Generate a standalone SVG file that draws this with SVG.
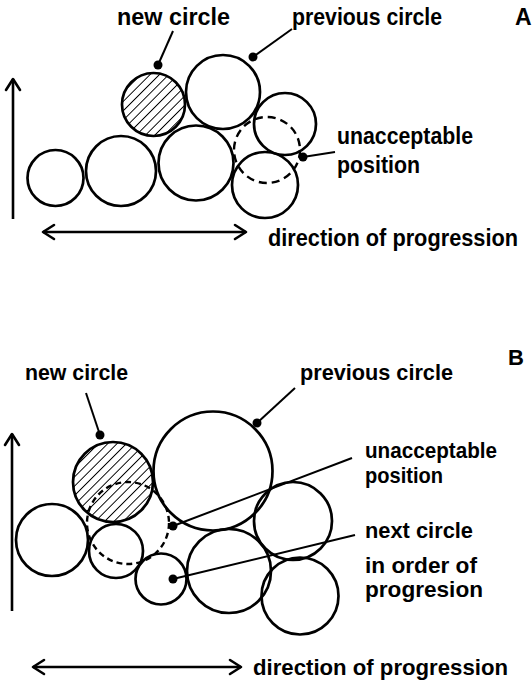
<svg xmlns="http://www.w3.org/2000/svg" width="532" height="681" viewBox="0 0 532 681">
<style>
.c{fill:none;stroke:#000;stroke-width:2.7}
.h{fill:url(#hatch);stroke:#000;stroke-width:2.7}
.d{fill:none;stroke:#000;stroke-width:2.4;stroke-dasharray:8 5}
.db{fill:none;stroke:#000;stroke-width:2.4;stroke-dasharray:6 4}
.l{stroke:#000;stroke-width:2;fill:none}
.ar{stroke:#000;stroke-width:2.6;fill:none;marker-end:url(#ah)}
.ar2{stroke:#000;stroke-width:2.6;fill:none;marker-start:url(#ah);marker-end:url(#ah)}
.dot{fill:#000}
text{font-family:"Liberation Sans",Arial,sans-serif;font-weight:bold;fill:#000}
.ta{font-size:23px}
.tb{font-size:22px}
</style>
<defs>
<pattern id="hatch" patternUnits="userSpaceOnUse" width="6.6" height="6.6" patternTransform="rotate(45)">
<line x1="0" y1="-1" x2="0" y2="8" stroke="#000" stroke-width="1.9"/>
</pattern>
<marker id="ah" markerUnits="userSpaceOnUse" viewBox="-13 -9 15 18" refX="0" refY="0" markerWidth="15" markerHeight="18" orient="auto-start-reverse">
<path d="M-11,-7 L0,0 L-11,7" fill="none" stroke="#000" stroke-width="2.6" stroke-linecap="round" stroke-linejoin="round"/>
</marker>
</defs>

<!-- Panel A -->
<g id="a-c1"><circle class="c" cx="55.5" cy="178" r="28"/></g>
<g id="a-c2"><circle class="c" cx="121" cy="171" r="35"/></g>
<g id="a-c3"><circle class="c" cx="196" cy="163" r="37.5"/></g>
<g id="a-new"><circle class="h" cx="153.5" cy="104.5" r="31.5"/></g>
<g id="a-prev"><circle class="c" cx="223" cy="92" r="37"/></g>
<g id="a-c4"><circle class="c" cx="285" cy="124" r="31"/></g>
<g id="a-c5"><circle class="c" cx="265" cy="185" r="33"/></g>
<g id="a-unacc"><circle class="d" cx="267" cy="150" r="33"/></g>

<g id="a-connectors">
<line class="l" x1="173" y1="31" x2="158" y2="65"/>
<circle class="dot" cx="158" cy="65" r="4.5"/>
<line class="l" x1="292" y1="29" x2="253" y2="57"/>
<circle class="dot" cx="253" cy="57" r="4.5"/>
<line class="l" x1="335" y1="152" x2="303" y2="157"/>
<circle class="dot" cx="303" cy="157" r="4.5"/>
<line class="ar" x1="13" y1="219" x2="13" y2="79"/>
<line class="ar2" x1="43" y1="232" x2="246" y2="232"/>
</g>

<g id="a-labels">
<text class="ta" x="117" y="25" textLength="113" lengthAdjust="spacingAndGlyphs">new circle</text>
<text class="ta" x="292" y="25" textLength="150" lengthAdjust="spacingAndGlyphs">previous circle</text>
<text class="ta" x="515" y="25">A</text>
<text class="ta" x="337" y="144" textLength="136" lengthAdjust="spacingAndGlyphs">unacceptable</text>
<text class="ta" x="337" y="173" textLength="83" lengthAdjust="spacingAndGlyphs">position</text>
<text class="ta" x="268" y="246" textLength="250" lengthAdjust="spacingAndGlyphs">direction of progression</text>
</g>

<!-- Panel B -->
<g id="b-c1"><circle class="c" cx="52" cy="540" r="36"/></g>
<g id="b-c2"><circle class="c" cx="116" cy="551" r="27"/></g>
<g id="b-new"><circle class="h" cx="113" cy="482" r="40"/></g>
<g id="b-prev"><circle class="c" cx="213" cy="471" r="59.5"/></g>
<g id="b-c3"><circle class="c" cx="161" cy="579" r="25.5"/></g>
<g id="b-c4"><circle class="c" cx="229" cy="571" r="42"/></g>
<g id="b-c5"><circle class="c" cx="293" cy="521" r="39"/></g>
<g id="b-c6"><circle class="c" cx="300" cy="596" r="38.5"/></g>
<g id="b-unacc"><circle class="db" cx="128" cy="523" r="41"/></g>

<g id="b-connectors">
<line class="l" x1="86" y1="393" x2="100" y2="435"/>
<circle class="dot" cx="100" cy="435" r="4.5"/>
<line class="l" x1="295" y1="388" x2="257" y2="423"/>
<circle class="dot" cx="257" cy="423" r="4.5"/>
<line class="l" x1="352" y1="458" x2="173" y2="526"/>
<circle class="dot" cx="173" cy="526" r="4.5"/>
<line class="l" x1="355" y1="535" x2="173" y2="579"/>
<circle class="dot" cx="173" cy="579" r="4.5"/>
<line class="ar" x1="12" y1="611" x2="12" y2="434"/>
<line class="ar2" x1="33" y1="667" x2="241" y2="667"/>
</g>

<g id="b-labels">
<text class="tb" x="508" y="365">B</text>
<text class="tb" x="25" y="380" textLength="103" lengthAdjust="spacingAndGlyphs">new circle</text>
<text class="tb" x="300" y="380" textLength="153" lengthAdjust="spacingAndGlyphs">previous circle</text>
<text class="tb" x="365" y="458" textLength="132" lengthAdjust="spacingAndGlyphs">unacceptable</text>
<text class="tb" x="365" y="483" textLength="78" lengthAdjust="spacingAndGlyphs">position</text>
<text class="tb" x="365" y="538" textLength="108" lengthAdjust="spacingAndGlyphs">next circle</text>
<text class="tb" x="365" y="573" textLength="112" lengthAdjust="spacingAndGlyphs">in order of</text>
<text class="tb" x="365" y="597" textLength="118" lengthAdjust="spacingAndGlyphs">progresion</text>
<text class="tb" x="253" y="675" textLength="255" lengthAdjust="spacingAndGlyphs">direction of progression</text>
</g>
</svg>
